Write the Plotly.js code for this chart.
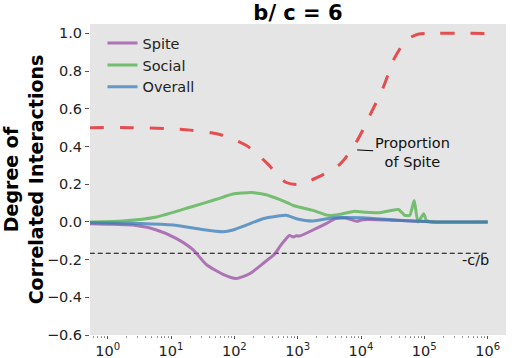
<!DOCTYPE html>
<html>
<head>
<meta charset="utf-8">
<script src="https://cdn.plot.ly/plotly-3.0.1.min.js"></script>
<style>html,body{margin:0;padding:0;background:#fff;}#chart{width:512px;height:358px;}</style>
</head>
<body>
<div id="chart"></div>
<script>
// Proportion of Spite (red dashed)
var propX = [0.52, 2.5, 7.9, 20, 59, 155, 324, 661, 1070, 2000, 4570, 8510, 13800, 22400, 33900, 52500, 79400, 155000, 1000000];
var propY = [0.50, 0.50, 0.495, 0.487, 0.464, 0.405, 0.313, 0.209, 0.200, 0.235, 0.304, 0.426, 0.565, 0.713, 0.870, 0.965, 0.996, 1.0, 1.0];

// Spite
var spiteX = [0.52, 1, 2.5, 5.9, 12, 22.4, 36, 66, 107, 174, 282, 437, 525, 631, 741, 851, 955, 1070, 1740, 2820, 3890, 5890, 8510, 10700, 36300, 85100, 158000, 1000000];
var spiteY = [-0.010, -0.012, -0.017, -0.043, -0.087, -0.148, -0.226, -0.278, -0.300, -0.275, -0.221, -0.169, -0.130, -0.096, -0.072, -0.080, -0.074, -0.075, -0.043, -0.009, 0.017, 0.020, 0.003, 0.012, 0.009, 0.003, 0.0, 0.0];

// Social
var socialX = [0.52, 1.74, 5.9, 20, 52, 95, 186, 316, 525, 708, 851, 1070, 1740, 3020, 4570, 7940, 9550, 20000, 38900, 49000, 58900, 69200, 79400, 97700, 107000, 126000, 1000000];
var socialY = [0.0, 0.005, 0.026, 0.078, 0.120, 0.148, 0.156, 0.144, 0.118, 0.100, 0.087, 0.078, 0.061, 0.035, 0.040, 0.057, 0.054, 0.049, 0.066, 0.035, 0.035, 0.113, 0.0, 0.044, 0.010, 0.0, 0.0];

// Overall
var overallX = [0.52, 3.2, 10.7, 28, 66, 95, 155, 282, 468, 661, 955, 1740, 3630, 10700, 36300, 85100, 158000, 1000000];
var overallY = [-0.005, -0.009, -0.017, -0.038, -0.052, -0.043, -0.017, 0.017, 0.030, 0.035, 0.017, 0.005, 0.022, 0.022, 0.009, 0.003, 0.0, 0.0];

// -c/b reference line
var cbX = [0.52, 1000000];
var cbY = [-1/6, -1/6];

var xTickVals = [1, 10, 100, 1000, 10000, 100000, 1000000];
var xTickText = ['10<sup>0</sup>', '10<sup>1</sup>', '10<sup>2</sup>', '10<sup>3</sup>', '10<sup>4</sup>', '10<sup>5</sup>', '10<sup>6</sup>'];
var yTickVals = [-0.6, -0.4, -0.2, 0.0, 0.2, 0.4, 0.6, 0.8, 1.0];
var yTickText = ['\u22120.6', '\u22120.4', '\u22120.2', '0.0', '0.2', '0.4', '0.6', '0.8', '1.0'];

var F = 'DejaVu Sans';

var traces = [
  {x: cbX, y: cbY, mode: 'lines', showlegend: false, hoverinfo: 'skip',
   line: {color: '#000', width: 1.1, dash: '5px,3px'}},
  {x: spiteX, y: spiteY, mode: 'lines', name: 'Spite',
   line: {color: 'rgba(152,78,163,0.75)', width: 3, shape: 'spline', smoothing: 0.6}},
  {x: socialX, y: socialY, mode: 'lines', name: 'Social',
   line: {color: 'rgba(77,175,74,0.75)', width: 3, shape: 'spline', smoothing: 0.5}},
  {x: overallX, y: overallY, mode: 'lines', name: 'Overall',
   line: {color: 'rgba(55,126,184,0.75)', width: 3, shape: 'spline', smoothing: 0.6}},
  {x: propX, y: propY, mode: 'lines', showlegend: false,
   line: {color: 'rgba(228,26,28,0.75)', width: 3, dash: '14px,16px', shape: 'spline', smoothing: 0.8}}
];

var layout = {
  width: 512, height: 358,
  margin: {l: 90, r: 6, t: 24, b: 23},
  paper_bgcolor: '#ffffff',
  plot_bgcolor: '#e5e5e5',
  font: {family: F, size: 14.5, color: '#222'},
  title: {text: '<b>b/ c = 6</b>', font: {family: F, size: 21, color: '#000'},
          x: 0.5, xref: 'paper', xanchor: 'center', y: 0.966, yref: 'container', yanchor: 'middle'},
  xaxis: {type: 'log', range: [-0.28, 6.29], showgrid: false, zeroline: false, showline: false,
          tickvals: xTickVals, ticktext: xTickText, ticks: 'outside', ticklen: 3, tickcolor: '#555',
          tickfont: {family: F, size: 14.5, color: '#222'},
          minor: {ticks: 'outside', ticklen: 2, tickcolor: '#999', dtick: 'D1', showgrid: false}},
  yaxis: {range: [-0.6, 1.05], showgrid: false, zeroline: false, showline: false,
          tickvals: yTickVals, ticktext: yTickText, ticks: 'outside', ticklen: 4, tickcolor: '#555',
          tickfont: {family: F, size: 14.5, color: '#222'},
          title: {text: '<b>Degree of<br>Correlated Interactions</b>', font: {family: F, size: 19, color: '#000'}, standoff: 2}},
  legend: {x: 0.03, y: 0.99, xanchor: 'left', yanchor: 'top', bgcolor: 'rgba(0,0,0,0)',
           font: {family: F, size: 14.5, color: '#222'}, tracegroupgap: 0},
  annotations: [
    {x: Math.log10(8700), y: 0.382, xref: 'x', yref: 'y', text: 'Proportion<br>of Spite',
     showarrow: true, arrowhead: 0, arrowwidth: 1, arrowcolor: '#000', ax: 55, ay: 3, standoff: 0,
     font: {family: F, size: 14.5, color: '#111'}, align: 'center'},
    {x: 6, y: -1/6, xref: 'x', yref: 'y', text: '-c/b', showarrow: false,
     xanchor: 'right', yanchor: 'top', xshift: 3, yshift: 3,
     font: {family: F, size: 14.5, color: '#111'}}
  ],
  showlegend: true
};

Plotly.newPlot('chart', traces, layout, {displayModeBar: false, staticPlot: true});
</script>
</body>
</html>
